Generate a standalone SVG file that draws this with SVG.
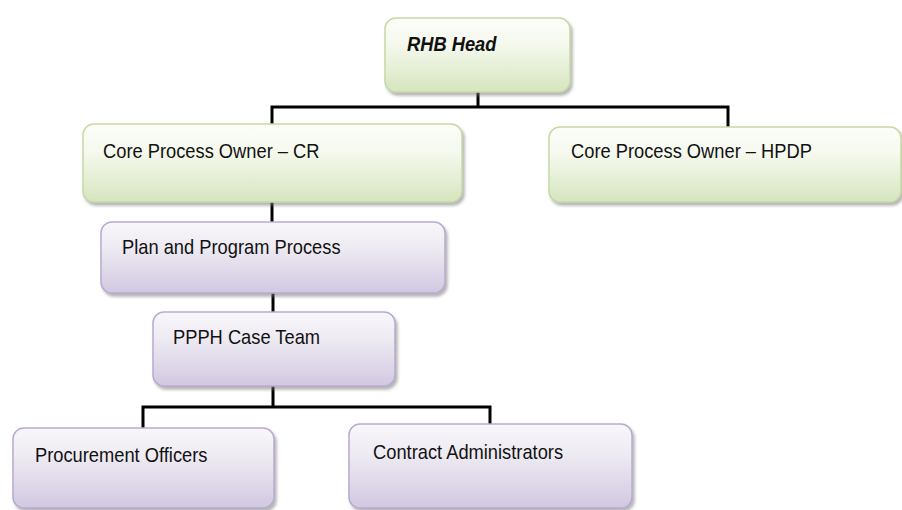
<svg xmlns="http://www.w3.org/2000/svg" width="902" height="510" viewBox="0 0 902 510">
<defs>
<linearGradient id="gGreen" x1="0" y1="0" x2="0" y2="1">
<stop offset="0" stop-color="#fcfdf9"/>
<stop offset="0.35" stop-color="#f5f9ee"/>
<stop offset="1" stop-color="#d6e5bf"/>
</linearGradient>
<linearGradient id="gPurple" x1="0" y1="0" x2="0" y2="1">
<stop offset="0" stop-color="#f8f7fa"/>
<stop offset="0.35" stop-color="#eeebf3"/>
<stop offset="1" stop-color="#d2c8e1"/>
</linearGradient>
<filter id="sh" x="-5%" y="-10%" width="115%" height="130%">
<feDropShadow dx="2" dy="3" stdDeviation="1.5" flood-color="#777" flood-opacity="0.55"/>
</filter>
</defs>
<style>
.green{fill:url(#gGreen);stroke:#c6d9a4;stroke-width:1.5;filter:url(#sh)}
.purple{fill:url(#gPurple);stroke:#b9abd0;stroke-width:1.5;filter:url(#sh)}
.lbl{font-family:"Liberation Sans",Arial,sans-serif;font-size:18.3px;fill:#111}
.head{font-weight:bold;font-style:italic}
.conn{fill:none;stroke:#000;stroke-width:3;stroke-linejoin:miter}
</style>
<rect width="902" height="510" fill="#fff"/>
<g id="connectors">
<path class="conn" d="M478 92 V107 M272 124 V107 H728 V127"/>
<path class="conn" d="M272 202 V222"/>
<path class="conn" d="M273 293 V312"/>
<path class="conn" d="M273 386 V407 M143 428 V407 H490 V424"/>
</g>
<g id="rhb-head">
<rect class="green" x="385" y="18" width="185" height="74" rx="11"/>
<text class="lbl head" transform="translate(407,51) scale(1,1.14)">RHB Head</text>
</g>
<g id="cpo-cr">
<rect class="green" x="83" y="124" width="379" height="78" rx="11"/>
<text class="lbl" transform="translate(103,158) scale(1,1.14)">Core Process Owner – CR</text>
</g>
<g id="cpo-hpdp">
<rect class="green" x="549" y="127" width="352" height="75" rx="11"/>
<text class="lbl" transform="translate(571,158) scale(1,1.14)">Core Process Owner – HPDP</text>
</g>
<g id="plan-program">
<rect class="purple" x="101" y="222" width="344" height="71" rx="11"/>
<text class="lbl" transform="translate(122,254) scale(1,1.14)">Plan and Program Process</text>
</g>
<g id="ppph-case-team">
<rect class="purple" x="153" y="312" width="242" height="74" rx="11"/>
<text class="lbl" transform="translate(173,344) scale(1,1.14)">PPPH Case Team</text>
</g>
<g id="procurement-officers">
<rect class="purple" x="13" y="428" width="261" height="80" rx="11"/>
<text class="lbl" transform="translate(35,462) scale(1,1.14)">Procurement Officers</text>
</g>
<g id="contract-administrators">
<rect class="purple" x="349" y="424" width="283" height="84" rx="11"/>
<text class="lbl" transform="translate(373,459) scale(1,1.14)">Contract Administrators</text>
</g>
</svg>
